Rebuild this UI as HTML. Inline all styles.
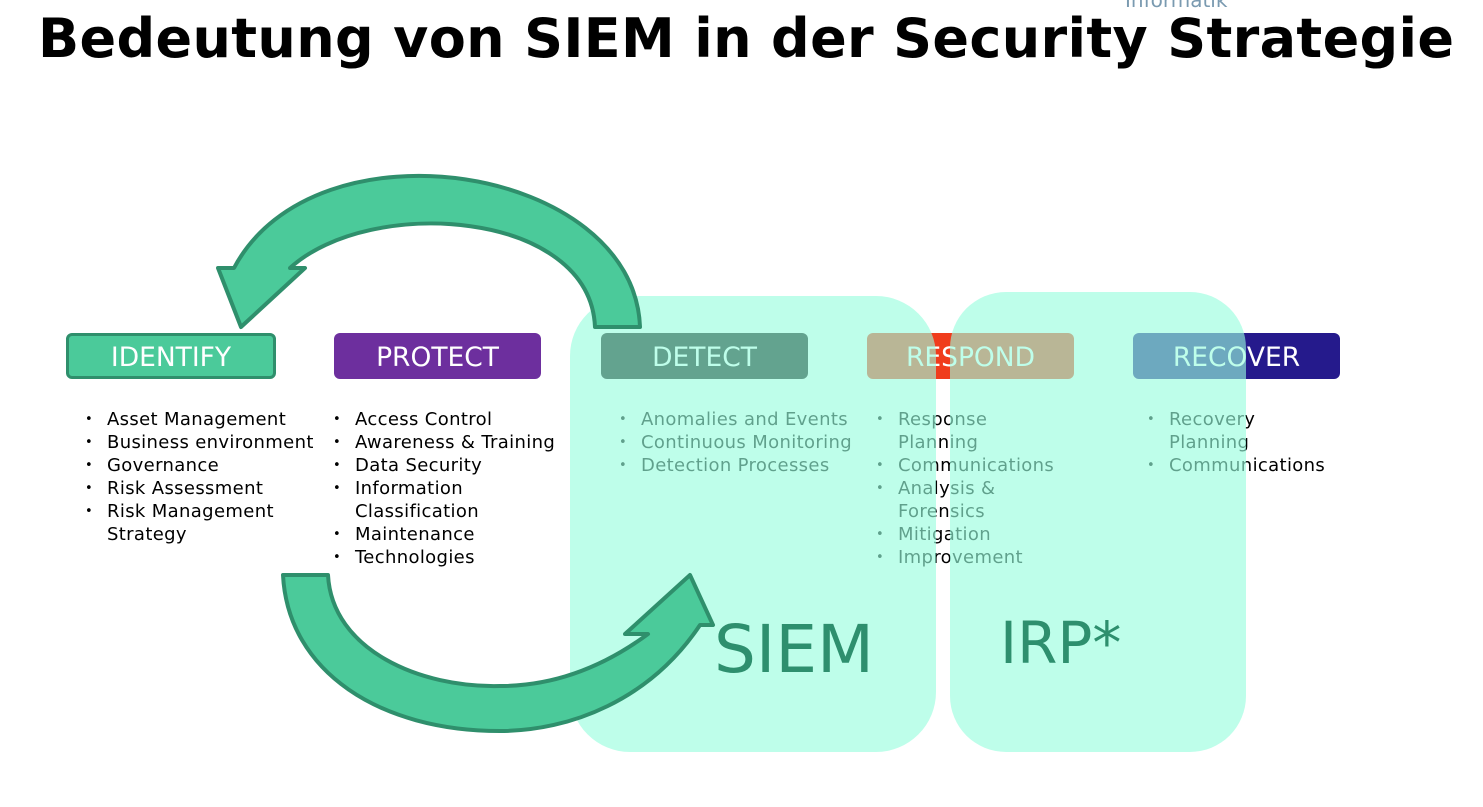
<!DOCTYPE html>
<html><head><meta charset="utf-8"><style>
body{margin:0;width:1483px;height:807px;overflow:hidden;background:#fff;font-family:"DejaVu Sans","Liberation Sans",sans-serif;position:relative}
.abs{position:absolute}
.box{position:absolute;top:333px;width:207px;height:46px;border-radius:6px;color:#fff;font-size:26.5px;text-align:center;line-height:50px;box-sizing:border-box}
ul{position:absolute;top:408px;margin:0;padding:0 0 0 22px;font-size:18px;letter-spacing:0.35px;line-height:23px;color:#000;list-style:none}
ul li{position:relative}
ul li:before{content:"•";position:absolute;left:-22px;font-size:13px}
</style></head><body>
<div class="abs" style="left:38px;top:1px;font-family:'DejaVu Sans',sans-serif;font-weight:bold;font-size:54px;line-height:76px;white-space:nowrap;letter-spacing:0.35px">Bedeutung von SIEM in der Security Strategie</div>
<div class="abs" style="left:1125px;top:-12px;font-size:20px;color:#7a9ab0">Informatik</div>

<div class="box" style="left:66px;width:210px;background:#4bca9a;border:3px solid #2f8f6c;line-height:44px">IDENTIFY</div>
<div class="box" style="left:334px;background:#6d2f9e">PROTECT</div>
<div class="box" style="left:601px;background:#0a0a0a">DETECT</div>
<div class="box" style="left:867px;background:#f03c1c">RESPOND</div>
<div class="box" style="left:1133px;background:#251a8c">RECOVER</div>

<ul style="left:85px"><li>Asset Management</li><li>Business environment</li><li>Governance</li><li>Risk Assessment</li><li>Risk Management<br>Strategy</li></ul>
<ul style="left:333px"><li>Access Control</li><li>Awareness &amp; Training</li><li>Data Security</li><li>Information<br>Classification</li><li>Maintenance</li><li>Technologies</li></ul>
<ul style="left:619px"><li>Anomalies and Events</li><li>Continuous Monitoring</li><li>Detection Processes</li></ul>
<ul style="left:876px"><li>Response<br>Planning</li><li>Communications</li><li>Analysis &amp;<br>Forensics</li><li>Mitigation</li><li>Improvement</li></ul>
<ul style="left:1147px"><li>Recovery<br>Planning</li><li>Communications</li></ul>

<div class="abs" style="left:570px;top:296px;width:366px;height:456px;border-radius:60px;background:rgba(152,254,222,0.63)"></div>
<div class="abs" style="left:950px;top:292px;width:296px;height:460px;border-radius:56px;background:rgba(152,254,222,0.63)"></div>

<svg class="abs" style="left:0;top:0" width="1483" height="807">
<path d="M640 327 C634 165 315 115 234 268 L218 268 L241 327 L305 268 L290 268 C370 195 590 210 595 327 Z" fill="#4bca9a" stroke="#2f8f6c" stroke-width="4" stroke-linejoin="round"/>
<path d="M283 575 L328 575 C332 650 420 688 500 686 C560 686 610 662 648 634 L625 634 L690 575 L713 625 L700 625 C650 700 570 731 500 731 C380 731 288 672 283 575 Z" fill="#4bca9a" stroke="#2f8f6c" stroke-width="4" stroke-linejoin="round"/>
</svg>

<div class="abs" style="left:714px;top:612px;font-size:66px;line-height:76px;color:#2e8f6e">SIEM</div>
<div class="abs" style="left:1000px;top:608px;font-size:58px;line-height:70px;color:#2e8f6e">IRP*</div>
</body></html>
